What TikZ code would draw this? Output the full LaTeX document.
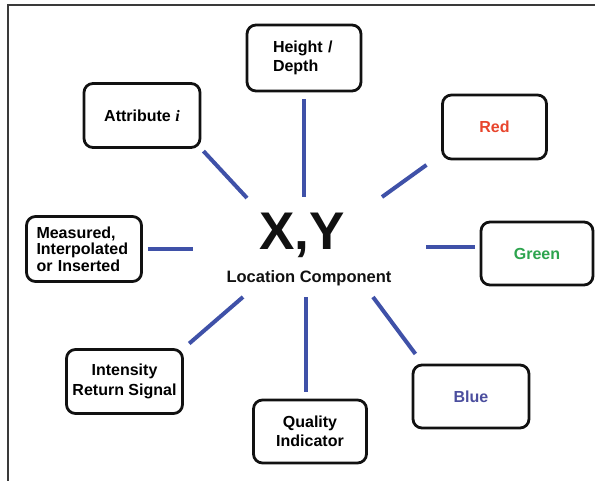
\documentclass[tikz,border=0pt]{standalone}
\usepackage{fontspec}
\setmainfont{Liberation Sans}
\newfontfamily\serifbi{Liberation Serif}
\definecolor{Ink}{HTML}{111111}
\definecolor{Frame}{HTML}{3A3A3A}
\definecolor{Spoke}{HTML}{3F51A8}
\definecolor{RedTxt}{HTML}{E8452C}
\definecolor{GreenTxt}{HTML}{2DA44E}
\definecolor{BlueTxt}{HTML}{4B4E9E}
\tikzset{
  box/.style={draw=Ink,line width=2.8pt,rounded corners=9pt,fill=white,align=center,inner sep=0pt,
    font=\fontsize{16}{18.5}\selectfont\bfseries},
  spoke/.style={draw=Spoke,line width=4pt},
}

\begin{document}
\begin{tikzpicture}[x=1pt,y=-1pt,
 mid/.style={inner sep=0pt,anchor=base,text=Ink}]
\useasboundingbox (0,0) rectangle (595,481);
\draw[Frame,line width=2pt] (8,481) -- (8,5) -- (595,5);
% centre
\node[mid,font=\fontsize{53}{53}\selectfont\bfseries] (xy) at (302,250) {X,Y};
\node[mid,font=\fontsize{16.5}{18}\selectfont\bfseries] (loc) at (309,283) {Location Component};
% boxes round the centre
\node[box,align=left,text width=62pt,inner xsep=26pt,minimum height=66pt] (hd) at (304,58) {Height /\\Depth};
\node[box,minimum width=116pt,minimum height=64pt] (attr) at (142,115.5) {Attribute {\serifbi\bfseries\itshape i}};
\node[box,minimum width=104pt,minimum height=64pt,text=RedTxt] (red) at (494.5,127) {Red};
\node[box,align=left,text width=95pt,inner xsep=10pt,minimum height=65pt,font=\fontsize{16}{16.5}\selectfont\bfseries] (meas) at (84,249) {Measured,\\Interpolated\\or Inserted};
\node[box,minimum width=112pt,minimum height=63pt,text=GreenTxt] (green) at (537,253.5) {Green};
\node[box,minimum width=116pt,minimum height=64pt,font=\fontsize{16}{20}\selectfont\bfseries] (intens) at (124.5,381.5) {Intensity\\Return Signal};
\node[box,minimum width=113pt,minimum height=63pt] (qual) at (310,431.5) {Quality\\Indicator};
\node[box,minimum width=116pt,minimum height=63pt,text=BlueTxt] (blue) at (471,396.5) {Blue};
% inner ends of the spokes
\coordinate (ulin) at (247,198);
\coordinate (upin) at (304,197);
\coordinate (urin) at (382,197);
\coordinate (lin) at (193,249);
\coordinate (rin) at (426,247);
\coordinate (llin) at (243,297);
\coordinate (dnin) at (306,297);
\coordinate (lrin) at (373,297);
\draw[spoke,shorten <=3pt] (attr.south east) -- (ulin);
\draw[spoke,shorten <=7pt] (hd.south) -- (upin);
\draw[spoke,shorten <=18pt] ([yshift=6pt]red.south west) -- (urin);
\draw[spoke,shorten <=5pt] (meas.east) -- (lin);
\draw[spoke,shorten <=5pt] ([yshift=6.5pt]green.west) -- (rin);
\draw[spoke,shorten <=7pt] (intens.north east) -- (llin);
\draw[spoke,shorten <=7pt] ([xshift=-4pt]qual.north) -- (dnin);
\draw[spoke,shorten <=12pt] ([xshift=11pt]blue.north west) -- (lrin);
\end{tikzpicture}
\end{document}
